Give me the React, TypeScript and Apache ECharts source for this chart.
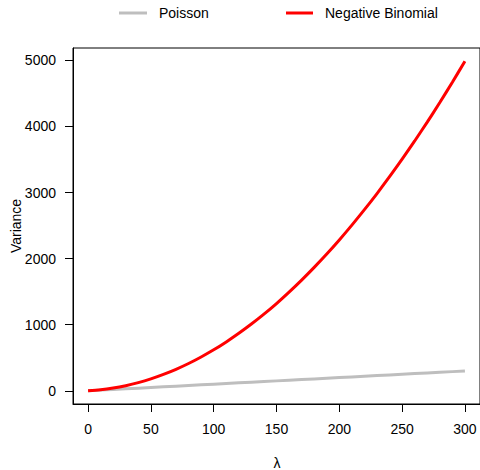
import React, { useEffect, useRef } from "react";
import * as echarts from "echarts";

const lambdaValues = [0, 10, 20, 30, 40, 50, 60, 70, 80, 90, 100, 110, 120, 130, 140, 150, 160, 170, 180, 190, 200, 210, 220, 230, 240, 250, 260, 270, 280, 290, 300];
const poissonVariance = [0, 10, 20, 30, 40, 50, 60, 70, 80, 90, 100, 110, 120, 130, 140, 150, 160, 170, 180, 190, 200, 210, 220, 230, 240, 250, 260, 270, 280, 290, 300];
const negBinVariance = [0, 15, 41, 77, 123, 180, 248, 325, 413, 512, 620, 740, 870, 1010, 1160, 1320, 1493, 1675, 1868, 2070, 2283, 2507, 2741, 2985, 3240, 3505, 3781, 4067, 4363, 4670, 4988];
const xTicks = [0, 50, 100, 150, 200, 250, 300];
const yTicks = [0, 1000, 2000, 3000, 4000, 5000];
const seriesNames = ["Poisson", "Negative Binomial"];
const axisTitles = { x: "λ", y: "Variance" };

const FONT = "'Liberation Sans', Arial, Helvetica, sans-serif";

export default function App() {
  const ref = useRef<HTMLDivElement>(null);
  useEffect(() => {
    if (!ref.current) return;
    const chart = echarts.init(ref.current, null, { renderer: "svg" });
    const pois = lambdaValues.map((l, i) => [l, poissonVariance[i]]);
    const nb = lambdaValues.map((l, i) => [l, negBinVariance[i]]);
    const plain = (v: number) => String(v);
    chart.setOption({
      animation: false,
      backgroundColor: "#ffffff",
      textStyle: { fontFamily: FONT },
      grid: {
        left: 73,
        right: -1,
        top: 48,
        bottom: 66,
        show: true,
        borderColor: "#000000",
        borderWidth: 1,
        containLabel: false,
      },
      xAxis: {
        type: "value",
        min: -12,
        max: 312,
        axisLine: { show: true, onZero: false, lineStyle: { color: "#000000", width: 1 } },
        axisTick: { show: true, length: 8, customValues: xTicks, lineStyle: { color: "#000000" } },
        axisLabel: { show: true, customValues: xTicks, formatter: plain, margin: 18, fontSize: 14, color: "#000000", fontFamily: FONT },
        splitLine: { show: false },
      },
      yAxis: {
        type: "value",
        min: -200,
        max: 5188,
        axisLine: { show: true, onZero: false, lineStyle: { color: "#000000", width: 1 } },
        axisTick: { show: true, length: 8, customValues: yTicks, lineStyle: { color: "#000000" } },
        axisLabel: { show: true, customValues: yTicks, formatter: plain, margin: 17, fontSize: 14, color: "#000000", fontFamily: FONT },
        splitLine: { show: false },
      },
      series: [
        {
          name: seriesNames[0],
          type: "line",
          data: pois,
          showSymbol: false,
          symbol: "none",
          lineStyle: { color: "#bebebe", width: 3 },
          z: 2,
        },
        {
          name: seriesNames[1],
          type: "line",
          data: nb,
          showSymbol: false,
          symbol: "none",
          smooth: 0.3,
          lineStyle: { color: "#ff0000", width: 3 },
          z: 3,
        },
      ],
      graphic: [
        { type: "line", shape: { x1: 119, y1: 13, x2: 147, y2: 13 }, style: { stroke: "#bebebe", lineWidth: 3 } },
        { type: "text", x: 159, y: 13, style: { text: seriesNames[0], fontSize: 14, fontFamily: FONT, fill: "#000000", verticalAlign: "middle", align: "left" } },
        { type: "line", shape: { x1: 286, y1: 13, x2: 313, y2: 13 }, style: { stroke: "#ff0000", lineWidth: 3 } },
        { type: "text", x: 325, y: 13, style: { text: seriesNames[1], fontSize: 14, fontFamily: FONT, fill: "#000000", verticalAlign: "middle", align: "left" } },
        { type: "text", x: 277, y: 463, style: { text: axisTitles.x, fontSize: 14, fontFamily: FONT, fill: "#000000", verticalAlign: "middle", align: "center" } },
        { type: "text", x: 16, y: 226, rotation: Math.PI / 2, style: { text: axisTitles.y, fontSize: 14, fontFamily: FONT, fill: "#000000", verticalAlign: "middle", align: "center" } },
      ],
    });
    return () => chart.dispose();
  }, []);
  return <div ref={ref} style={{ width: 480, height: 470, position: "absolute", left: 0, top: 0 }} />;
}
